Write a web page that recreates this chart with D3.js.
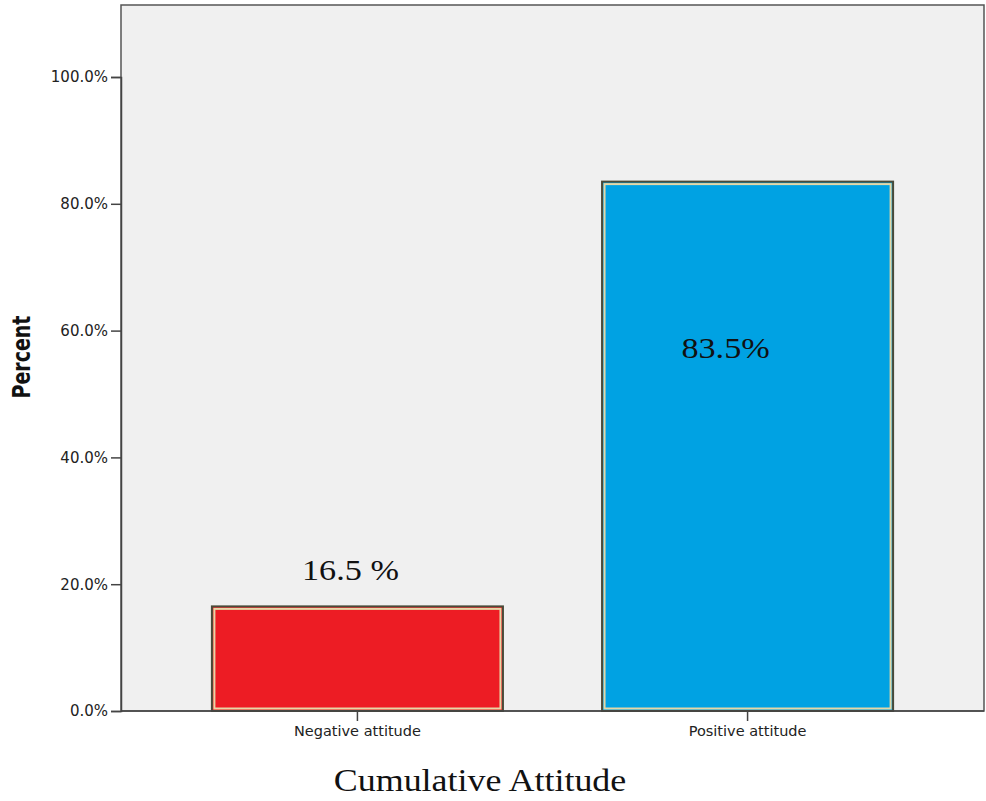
<!DOCTYPE html>
<html><head><meta charset="utf-8">
<script src="https://cdn.jsdelivr.net/npm/d3@7"></script>
<style>body{margin:0;background:#fff;}svg{display:block;}</style>
</head><body>
<svg id="c" width="986" height="801"></svg>
<script>
const categories = ["Negative attitude", "Positive attitude"];
const values = [16.5, 83.5];
const barLabels = ["16.5 %", "83.5%"];
const barColors = ["#ed1c24", "#00a2e3"];
const yTicks = [0, 20, 40, 60, 80, 100];
const xTitle = "Cumulative Attitude";
const yTitle = "Percent";

const svg = d3.select("#c");
const L = 121, R = 984, T = 5, B = 711;
const y = d3.scaleLinear().domain([0, 100]).range([B, 77]);
const x = d3.scaleBand().domain(categories).range([L, R]).paddingInner(0.254).paddingOuter(0.233);
const sans = "DejaVu Sans, Verdana, sans-serif";
const serif = "Liberation Serif, serif";

svg.append("rect").attr("x", L).attr("y", T).attr("width", R - L).attr("height", B - T)
  .attr("fill", "#f0f0f0").attr("stroke", "#555").attr("stroke-width", 1.5);

// bars
const g = svg.append("g");
categories.forEach((c, i) => {
  const x0 = x(c), w = x.bandwidth(), y0 = y(values[i]);
  g.append("rect").attr("x", x0).attr("y", y0).attr("width", w).attr("height", B - y0)
    .attr("fill", barColors[i]).attr("stroke", "#4a4a38").attr("stroke-width", 2);
  g.append("rect").attr("x", x0 + 2.5).attr("y", y0 + 2.5).attr("width", w - 5).attr("height", B - y0 - 5)
    .attr("fill", "none").attr("stroke", "#e6d7a6").attr("stroke-width", 2);
});

// y axis
const ya = svg.append("g").attr("transform", `translate(${L},0)`)
  .call(d3.axisLeft(y).tickValues(yTicks).tickFormat(d => d3.format(".1f")(d) + "%").tickSize(10).tickPadding(3));
ya.select(".domain").attr("stroke", "#444").attr("stroke-width", 1.5);
ya.selectAll(".tick line").attr("stroke", "#444").attr("stroke-width", 1.5);
ya.selectAll("text").attr("font-family", sans).attr("font-size", 15).attr("fill", "#222");

// x axis
const xa = svg.append("g").attr("transform", `translate(0,${B})`)
  .call(d3.axisBottom(x).tickSize(10).tickPadding(5));
xa.select(".domain").remove();
xa.selectAll(".tick line").attr("stroke", "#444").attr("stroke-width", 1.5);
xa.selectAll("text").attr("font-family", sans).attr("font-size", 14.5).attr("fill", "#222");
svg.append("line").attr("x1", L).attr("x2", R).attr("y1", B).attr("y2", B).attr("stroke", "#444").attr("stroke-width", 1.5);

// bar labels
function stretched(cx, cy, sx, size, txt) {
  svg.append("text").attr("transform", `translate(${cx},${cy}) scale(${sx},1)`)
    .attr("text-anchor", "middle").attr("font-family", serif).attr("font-size", size).attr("fill", "#111").text(txt);
}
stretched(x(categories[0]) + x.bandwidth() / 2 - 7, 580, 1.14, 30, barLabels[0]);
stretched(x(categories[1]) + x.bandwidth() / 2 - 22, 358, 1.14, 30, barLabels[1]);

// titles
stretched(480, 791, 1.16, 31, xTitle);
svg.append("text").attr("transform", "translate(30,357) scale(1.3,1) rotate(-90)").attr("text-anchor", "middle")
  .attr("font-family", sans).attr("font-weight", "bold").attr("font-size", 19).attr("fill", "#111").text(yTitle);
</script>
</body></html>
